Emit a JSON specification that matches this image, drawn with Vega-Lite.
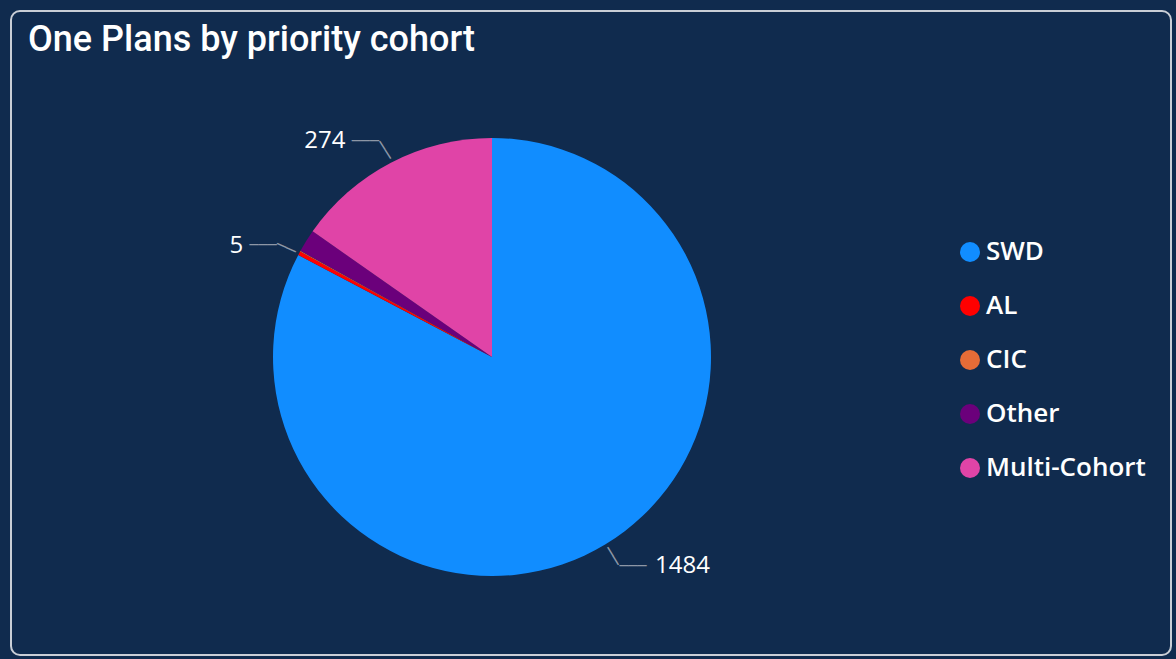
{
  "$schema": "https://vega.github.io/schema/vega-lite/v6.json",
  "autosize": {"type": "none"},
  "width": 1160,
  "height": 644,
  "padding": {"left": 11, "top": 11, "right": 5, "bottom": 4},
  "background": "#102b4e",
  "config": {
    "view": {"stroke": "#c9ced6", "strokeWidth": 2, "cornerRadius": 9, "fill": "#102b4e"},
    "font": "Open Sans"
  },
  "title": {
    "text": "One Plans by priority cohort",
    "anchor": "start",
    "frame": "group",
    "orient": "top",
    "offset": -41,
    "dx": 17,
    "dy": 35,
    "baseline": "alphabetic",
    "font": "Roboto",
    "fontWeight": 500,
    "fontSize": 36,
    "color": "#ffffff"
  },
  "data": {
    "values": [
      {"cohort": "SWD", "plans": 1484, "rank": 1},
      {"cohort": "AL", "plans": 5, "rank": 2},
      {"cohort": "CIC", "plans": 1, "rank": 3},
      {"cohort": "Other", "plans": 30, "rank": 4},
      {"cohort": "Multi-Cohort", "plans": 274, "rank": 5}
    ]
  },
  "encoding": {
    "theta": {"field": "plans", "type": "quantitative", "stack": true},
    "order": {"field": "rank", "type": "quantitative"},
    "x": {"value": 481},
    "y": {"value": 346}
  },
  "layer": [
    {
      "mark": {"type": "arc", "outerRadius": 219, "stroke": null},
      "encoding": {
        "color": {
          "field": "cohort",
          "type": "nominal",
          "sort": null,
          "scale": {
            "domain": ["SWD", "AL", "CIC", "Other", "Multi-Cohort"],
            "range": ["#118dff", "#ff0000", "#e66c37", "#6b007b", "#e044a7"]
          },
          "legend": {
            "title": null,
            "orient": "none",
            "legendX": 946,
            "legendY": 228,
            "symbolType": "circle",
            "symbolSize": 400,
            "symbolStrokeWidth": 0,
            "symbolOpacity": 1,
            "labelColor": "#ffffff",
            "labelFont": "Open Sans",
            "labelFontSize": 26,
            "labelFontWeight": 600,
            "labelOffset": 3,
            "rowPadding": 28,
            "labelLimit": 300
          }
        }
      }
    },
    {
      "mark": {"type": "text", "radius": 244, "align": "right", "baseline": "middle", "dx": -34, "fontSize": 24, "fontWeight": 500, "font": "Open Sans", "color": "#ffffff"},
      "encoding": {"text": {"condition": {"test": "datum.cohort === 'Multi-Cohort'", "field": "plans", "type": "quantitative"}, "value": ""}}
    },
    {
      "mark": {"type": "text", "radius": 244, "align": "right", "baseline": "middle", "dx": -34, "dy": 5, "fontSize": 24, "fontWeight": 500, "font": "Open Sans", "color": "#ffffff"},
      "encoding": {"text": {"condition": {"test": "datum.cohort === 'AL'", "field": "plans", "type": "quantitative"}, "value": ""}}
    },
    {
      "mark": {"type": "text", "radius": 244, "align": "left", "baseline": "middle", "dx": 37, "fontSize": 24, "fontWeight": 500, "font": "Open Sans", "color": "#ffffff"},
      "encoding": {"text": {"condition": {"test": "datum.cohort === 'SWD'", "field": "plans", "type": "quantitative"}, "value": ""}}
    },
    {
      "mark": {"type": "text", "radius": 244, "align": "center", "baseline": "middle", "dx": -14, "fontSize": 15, "font": "DejaVu Sans Mono", "color": "#8d97a6"},
      "encoding": {"text": {"condition": {"test": "datum.cohort === 'Multi-Cohort'", "value": "───"}, "value": ""}}
    },
    {
      "mark": {"type": "text", "radius": 244, "align": "center", "baseline": "middle", "dx": -14, "dy": 4, "fontSize": 15, "font": "DejaVu Sans Mono", "color": "#8d97a6"},
      "encoding": {"text": {"condition": {"test": "datum.cohort === 'AL'", "value": "───"}, "value": ""}}
    },
    {
      "mark": {"type": "text", "radius": 244, "align": "center", "baseline": "middle", "dx": 15, "fontSize": 15, "font": "DejaVu Sans Mono", "color": "#8d97a6"},
      "encoding": {"text": {"condition": {"test": "datum.cohort === 'SWD'", "value": "───"}, "value": ""}}
    },
    {
      "mark": {"type": "text", "radius": 233, "align": "center", "baseline": "middle", "angle": 58, "fontSize": 17, "font": "DejaVu Sans Mono", "color": "#8d97a6"},
      "encoding": {"text": {"condition": {"test": "datum.cohort === 'Multi-Cohort'", "value": "──"}, "value": ""}}
    },
    {
      "mark": {"type": "text", "radius": 233, "align": "center", "baseline": "middle", "angle": 24, "dy": 2, "fontSize": 17, "font": "DejaVu Sans Mono", "color": "#8d97a6"},
      "encoding": {"text": {"condition": {"test": "datum.cohort === 'AL'", "value": "──"}, "value": ""}}
    },
    {
      "mark": {"type": "text", "radius": 233, "align": "center", "baseline": "middle", "angle": 58.6, "fontSize": 17, "font": "DejaVu Sans Mono", "color": "#8d97a6"},
      "encoding": {"text": {"condition": {"test": "datum.cohort === 'SWD'", "value": "──"}, "value": ""}}
    }
  ]
}
